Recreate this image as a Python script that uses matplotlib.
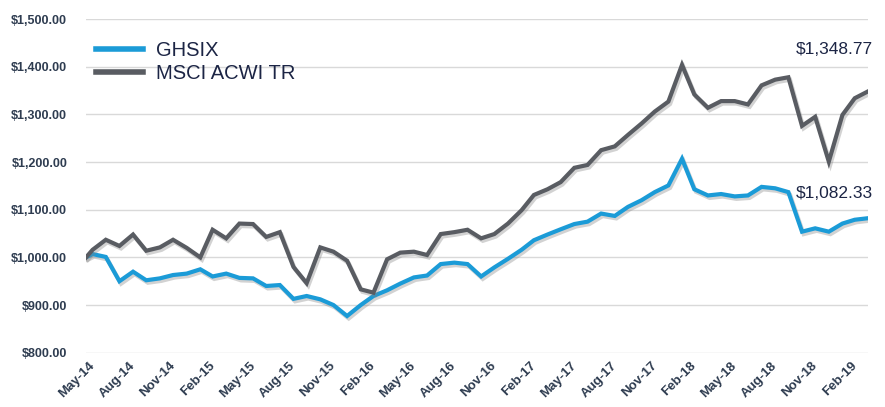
import numpy as np
import pandas as pd
import matplotlib
matplotlib.use("Agg")
import matplotlib.pyplot as plt
import matplotlib.dates as mdates
import matplotlib.patheffects as pe
import matplotlib.transforms as mtransforms

# Growth of $1,000 - month-end values (first point = inception)
start_date = "2014-05-16"
first_month_end = "2014-05-31"

ghsix = [1000, 1007, 1001, 950, 970, 952, 956, 963, 966, 975,
         960, 966, 957, 956, 940, 942, 913, 919, 912, 900,
         877, 900, 919, 931, 945, 958, 962, 986, 989, 986,
         960, 979, 997, 1016, 1036, 1048, 1059, 1070, 1075, 1092,
         1087, 1106, 1120, 1137, 1151, 1207, 1143, 1130, 1133, 1128,
         1130, 1148, 1145, 1137, 1054, 1061, 1054, 1071, 1079, 1082.33]

acwi = [1000, 1016, 1037, 1024, 1048, 1014, 1021, 1037, 1020, 1000,
        1058, 1040, 1071, 1070, 1043, 1053, 980, 946, 1021, 1012,
        993, 933, 926, 996, 1010, 1012, 1005, 1049, 1053, 1058,
        1040, 1049, 1071, 1099, 1131, 1143, 1158, 1188, 1194, 1225,
        1233, 1257, 1281, 1306, 1327, 1404, 1342, 1314, 1328, 1328,
        1321, 1361, 1373, 1378, 1276, 1295, 1201, 1299, 1334, 1348.77]

series_names = ["GHSIX", "MSCI ACWI TR"]
colors = ["#1b9bd7", "#595c62"]

dates = [pd.Timestamp(start_date)] + list(
    pd.date_range(first_month_end, periods=len(ghsix) - 1, freq="ME"))
tick_dates = dates[1::3]

plt.rcParams["font.family"] = ["Liberation Sans", "DejaVu Sans"]

fig = plt.figure(figsize=(8.85, 4.07), dpi=100)
ax = fig.add_axes([0.0972, 0.1334, 0.884, 0.8196])

shadow = [pe.SimpleLineShadow(offset=(1.2, -1.8), shadow_color="#808080", alpha=0.35),
          pe.Normal()]

for vals, name, c in zip([ghsix, acwi], series_names, colors):
    ax.plot(dates, vals, color=c, lw=3.0, label=name, solid_joinstyle="miter",
            path_effects=shadow, zorder=3)

ax.set_ylim(800, 1500)
ax.set_xlim(dates[0], dates[-1])
ax.set_yticks(np.arange(800, 1501, 100))
ax.yaxis.set_major_formatter(matplotlib.ticker.FuncFormatter(lambda v, p: f"${v:,.2f}"))
ax.set_xticks(tick_dates)
ax.xaxis.set_major_formatter(mdates.DateFormatter("%b-%y"))

ax.grid(axis="y", color="#d9d9d9", lw=1.0, zorder=0)
ax.grid(axis="x", visible=False)
for s in ax.spines.values():
    s.set_visible(False)

txt_color = "#2e3c50"
ax.tick_params(axis="y", length=0, pad=13.5, labelsize=9, labelcolor=txt_color)
ax.tick_params(axis="x", length=0, pad=5, labelsize=9.5, labelcolor=txt_color)
for lab in ax.get_yticklabels():
    lab.set_fontweight("bold")
shift = mtransforms.ScaledTranslation(-3 / 72, 0, fig.dpi_scale_trans)
for lab in ax.get_xticklabels():
    lab.set_rotation(45)
    lab.set_ha("right")
    lab.set_rotation_mode("anchor")
    lab.set_fontweight("bold")
    lab.set_transform(lab.get_transform() + shift)

# end value labels
ax.annotate(f"${acwi[-1]:,.2f}", xy=(dates[-1], acwi[-1]), xytext=(3, 30),
            textcoords="offset points", ha="right", va="center",
            fontsize=12.5, color="#1c2545")
ax.annotate(f"${ghsix[-1]:,.2f}", xy=(dates[-1], ghsix[-1]), xytext=(3, 18),
            textcoords="offset points", ha="right", va="center",
            fontsize=12.5, color="#1c2545")

leg = ax.legend(loc="upper left", bbox_to_anchor=(0.0128, 0.935), frameon=False,
                fontsize=14.5, handlelength=2.34, handletextpad=0.65,
                labelspacing=0.22, borderpad=0, borderaxespad=0)
for t in leg.get_texts():
    t.set_color("#1c2545")
for h in leg.get_lines():
    h.set_linewidth(4)
    h.set_path_effects([])

fig.savefig("out.png", dpi=100)
